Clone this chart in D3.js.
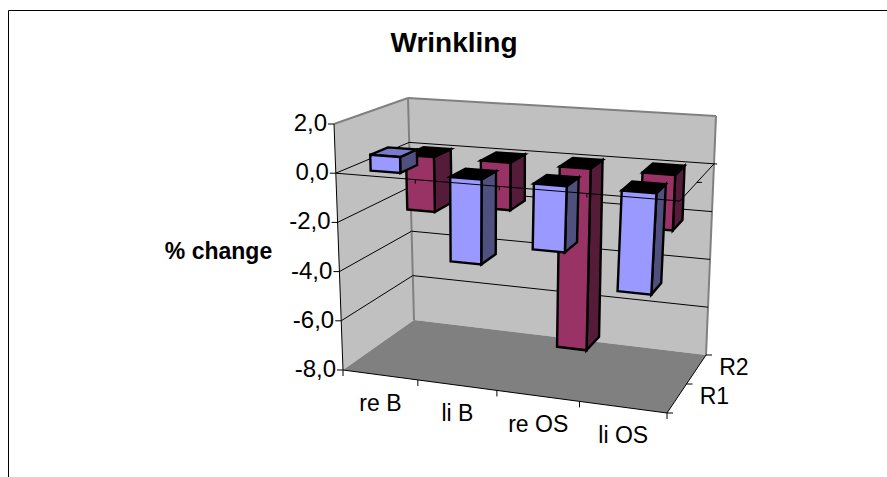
<!DOCTYPE html>
<html>
<head>
<meta charset="utf-8">
<script src="https://cdnjs.cloudflare.com/ajax/libs/d3/7.8.5/d3.min.js"></script>
<style>
  html, body { margin: 0; padding: 0; background: #fff; }
  svg { display: block; }
  text { font-family: "Liberation Sans", Arial, sans-serif; fill: #000; }
</style>
</head>
<body>
<svg id="chart" width="887" height="477"></svg>
<script>
const categories = ['re B', 'li B', 're OS', 'li OS'];
const seriesNames = ['R1', 'R2'];
const r1Values = [0.65, -3.4, -2.6, -3.9];
const r2Values = [-2.35, -2.0, -7.5, -2.25];
const valueTicks = [2, 0, -2, -4, -6, -8];

const svg = d3.select('#chart');

// corners of the 3d box, as pixels on the page
const corners = {
  flb: [343, 370], frb: [667, 413], blb: [414, 320], brb: [706, 355],
  flt: [334, 124], frt: [683, 148], blt: [408, 98], brt: [716, 116],
};

const uScale = d3.scaleBand().domain(categories).range([0, 1]);
const vScale = d3.scaleBand().domain(seriesNames).range([0, 1]);
const wScale = d3.scaleLinear().domain([-8, 2]).range([0, 1]);
// categories get wider to the right, the box is seen in perspective
const uWarp = d3.scaleLinear().domain([0, 0.25, 0.5, 0.75, 1]).range([0, 0.231, 0.475, 0.73, 1]);

const mix = (a, b, t) => [a[0] + (b[0] - a[0]) * t, a[1] + (b[1] - a[1]) * t];

// u along categories, v into the page, w up the value axis
const project = (u, v, w) => {
  const uw = uWarp(u);
  const front = mix(mix(corners.flb, corners.frb, uw), mix(corners.flt, corners.frt, uw), w);
  const back = mix(mix(corners.blb, corners.brb, uw), mix(corners.blt, corners.brt, uw), w);
  return mix(front, back, v);
};

const path = d3.line();
const face = (pts, fill, stroke, sw) => svg.append('path')
  .attr('d', path(pts) + 'Z')
  .attr('fill', fill)
  .attr('stroke', stroke || 'none')
  .attr('stroke-width', sw || 0)
  .attr('stroke-linejoin', 'miter');
const seg = (a, b, colour, sw) => svg.append('line')
  .attr('x1', a[0]).attr('y1', a[1])
  .attr('x2', b[0]).attr('y2', b[1])
  .attr('stroke', colour)
  .attr('stroke-width', sw);

// outer frame
seg([8.5, 10.5], [887, 10.5], '#000', 1);
seg([8.5, 10.5], [8.5, 477], '#000', 1);

// walls and floor
face([project(0, 0, 0), project(0, 1, 0), project(0, 1, 1), project(0, 0, 1)], '#c0c0c0');
face([project(0, 1, 0), project(1, 1, 0), project(1, 1, 1), project(0, 1, 1)], '#c0c0c0');
face([project(0, 0, 0), project(1, 0, 0), project(1, 1, 0), project(0, 1, 0)], '#808080');

const edge = '#808080';
seg(project(0, 0, 1), project(0, 1, 1), edge, 2);
seg(project(0, 1, 1), project(1, 1, 1), edge, 2);
seg(project(0, 1, 0), project(0, 1, 1), edge, 2);
seg(project(1, 1, 0), project(1, 1, 1), edge, 2);

// gridlines on the two walls
valueTicks.filter(d => d !== 2 && d !== -8).forEach((d) => {
  const w = wScale(d);
  seg(project(0, 0, w), project(0, 1, w), '#000', 1);
  seg(project(0, 1, w), project(1, 1, w), '#000', 1);
});

const barInset = 0.31;
const depthInset = 0.25;
const depthShift = 0.02;

const drawBar = (cat, series, value, front, side, cap) => {
  const u0 = uScale(cat) + uScale.bandwidth() * barInset;
  const u1 = uScale(cat) + uScale.bandwidth() * (1 - barInset);
  const v0 = vScale(series) + vScale.bandwidth() * depthInset + depthShift;
  const v1 = vScale(series) + vScale.bandwidth() * (1 - depthInset) + depthShift;
  const zero = wScale(0);
  const end = wScale(value);
  const top = Math.max(zero, end);
  const bottom = Math.min(zero, end);
  face([project(u1, v0, bottom), project(u1, v1, bottom), project(u1, v1, top), project(u1, v0, top)], side, '#000', 2.4);
  face([project(u0, v0, top), project(u1, v0, top), project(u1, v1, top), project(u0, v1, top)], cap, '#000', 2.4);
  face([project(u0, v0, bottom), project(u1, v0, bottom), project(u1, v0, top), project(u0, v0, top)], front, '#000', 2.4);
};

// back row first so the front row paints over it
categories.forEach((c, i) => drawBar(c, 'R2', r2Values[i], '#993366', '#551c39', '#000'));
categories.forEach((c, i) => drawBar(c, 'R1', r1Values[i], '#9999ff', '#50507f', r1Values[i] > 0 ? '#7a7acc' : '#000'));

// the zero plane edge runs over the bars
const w0 = wScale(0);
seg(project(0, 0, w0), project(1, 0, w0), '#000', 1);
seg(project(1, 0, w0), project(1, 1, w0), '#000', 1);
seg(project(1, 1, w0), mix(project(1, 1, w0), project(0, 1, w0), -0.01), '#000', 1);
[0.25, 0.5, 0.75].forEach((u) => {
  const p = project(u, 0, w0);
  seg(p, [p[0], p[1] + 4], '#000', 1);
});
const midDepth = project(1, 0.5, w0);
seg(midDepth, [midDepth[0] + 5, midDepth[1]], '#000', 1);

// axes
seg(project(0, 0, 1), project(0, 0, 0), '#000', 1);
seg(project(0, 0, 0), project(1, 0, 0), '#000', 1);
seg(project(1, 0, 0), project(1, 1, 0), '#000', 1);

valueTicks.forEach((d) => {
  const p = project(0, 0, wScale(d));
  seg([p[0] - 6, p[1]], p, '#000', 1);
  svg.append('text')
    .attr('x', p[0] - 7)
    .attr('y', p[1] + 7)
    .attr('text-anchor', 'end')
    .attr('font-size', 24)
    .text(d3.format('.1f')(d).replace('.', ',').replace('\u2212', '-'));
});

[0, 0.25, 0.5, 0.75, 1].forEach((u) => {
  const p = project(u, 0, 0);
  seg(p, [p[0], p[1] + 6], '#000', 1);
});

categories.forEach((c) => {
  const p = project(uScale(c) + uScale.bandwidth() / 2, 0, 0);
  svg.append('text')
    .attr('x', p[0])
    .attr('y', p[1] + 36)
    .attr('text-anchor', 'middle')
    .attr('font-size', 23)
    .text(c);
});

[0, 0.5, 1].forEach((v) => {
  const p = project(1, v, 0);
  seg(p, [p[0] + 6, p[1]], '#000', 1);
});

seriesNames.forEach((s) => {
  const p = project(1, vScale(s) + vScale.bandwidth() / 2, 0);
  svg.append('text')
    .attr('x', p[0] + 23)
    .attr('y', p[1] + 5)
    .attr('font-size', 23)
    .text(s);
});

svg.append('text')
  .attr('x', 454)
  .attr('y', 52)
  .attr('text-anchor', 'middle')
  .attr('font-size', 28)
  .attr('font-weight', 'bold')
  .text('Wrinkling');

svg.append('text')
  .attr('x', 218.5)
  .attr('y', 259)
  .attr('text-anchor', 'middle')
  .attr('font-size', 23)
  .attr('font-weight', 'bold')
  .text('% change');
</script>
</body>
</html>
